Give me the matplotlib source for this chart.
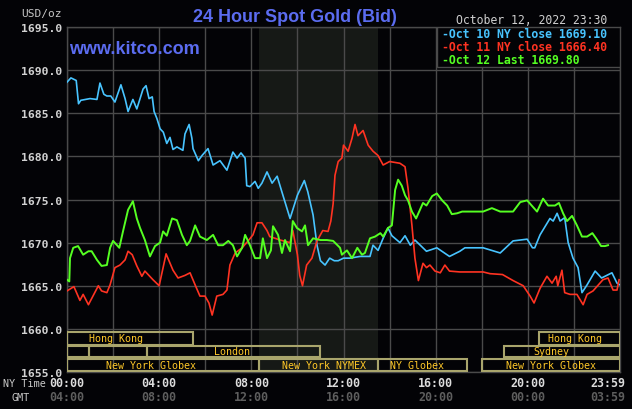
import numpy as np
import matplotlib.pyplot as plt
from matplotlib.patches import Rectangle

# --- values (hour of NY day, USD/oz) ---
blue_h = [0, 0.17, 0.4, 0.5, 0.6, 1.0, 1.3, 1.43, 1.6, 1.73, 1.9, 2.08, 2.34, 2.52, 2.65, 2.86,
          3.03, 3.3, 3.43, 3.56, 3.7, 3.78, 3.9, 4.04, 4.18, 4.33, 4.47, 4.6, 4.77, 5.03, 5.12,
          5.3, 5.42, 5.47, 5.7, 5.86, 6.12, 6.34, 6.64, 6.94, 7.2, 7.38, 7.55, 7.73, 7.8, 7.94,
          8.16, 8.3, 8.46, 8.68, 8.9, 9.12, 9.37, 9.68, 10.0, 10.3, 10.45, 10.68, 10.85, 11.0,
          11.2, 11.4, 11.6, 11.77, 12.0, 12.28, 12.72, 13.15, 13.28, 13.5, 13.72, 13.93, 14.1,
          14.45, 14.67, 14.9, 15.1, 15.6, 16.05, 16.6, 17.05, 17.27, 18.06, 18.8, 19.36, 19.97,
          20.2, 20.3, 20.53, 20.96, 21.1, 21.27, 21.4, 21.6, 21.75, 21.96, 22.18, 22.35, 22.57,
          22.92, 23.2, 23.65, 23.87, 24.0]
blue_p = [1688.6, 1689.1, 1688.8, 1686.1, 1686.5, 1686.7, 1686.6, 1688.5, 1687.2, 1687.0, 1687.0,
          1686.3, 1688.3, 1686.7, 1685.2, 1686.6, 1685.5, 1687.8, 1688.2, 1686.7, 1686.9, 1685.2,
          1684.4, 1683.2, 1682.8, 1681.5, 1682.2, 1680.8, 1681.1, 1680.7, 1682.6, 1683.7, 1682.1,
          1680.9, 1679.5, 1680.1, 1680.9, 1679.0, 1679.5, 1678.4, 1680.5, 1679.8, 1680.4, 1679.8,
          1676.6, 1676.5, 1677.1, 1676.3, 1676.9, 1678.2, 1676.9, 1677.7, 1675.5, 1672.8, 1675.5,
          1677.2, 1675.9, 1673.2, 1669.7, 1667.9, 1667.4, 1668.2, 1667.9, 1667.9, 1668.2, 1668.2,
          1668.4, 1668.4, 1669.7, 1669.1, 1670.5, 1671.7, 1670.8, 1670.0, 1670.8, 1669.7, 1670.3,
          1669.0, 1669.4, 1668.4, 1669.0, 1669.4, 1669.4, 1668.8, 1670.2, 1670.4, 1669.4, 1669.4,
          1670.9, 1672.8, 1672.5, 1673.4, 1672.5, 1672.9, 1670.0, 1668.2, 1667.1, 1664.2, 1665.1,
          1666.7, 1665.9, 1666.5, 1665.3, 1665.1]

red_h = [0, 0.3, 0.56, 0.7, 0.93, 1.36, 1.5, 1.73, 1.87, 2.08, 2.3, 2.52, 2.65, 2.83, 3.03, 3.25,
         3.38, 3.52, 3.73, 4.0, 4.3, 4.6, 4.82, 5.12, 5.34, 5.56, 5.77, 5.99, 6.16, 6.3, 6.5, 6.77,
         6.94, 7.07, 7.3, 7.6, 7.86, 8.07, 8.25, 8.46, 8.68, 8.8, 9.03, 9.25, 9.68, 9.8, 10.0, 10.1,
         10.22, 10.4, 10.63, 10.85, 11.1, 11.33, 11.45, 11.55, 11.63, 11.77, 11.93, 12.0, 12.2,
         12.37, 12.5, 12.63, 12.85, 13.07, 13.28, 13.5, 13.72, 14.0, 14.45, 14.67, 14.8, 14.97,
         15.1, 15.25, 15.45, 15.6, 15.75, 15.97, 16.2, 16.4, 16.6, 17.05, 18.06, 18.36, 18.9,
         19.36, 19.8, 20.1, 20.27, 20.53, 20.83, 21.05, 21.23, 21.3, 21.48, 21.6, 21.83, 22.13,
         22.4, 22.57, 22.83, 23.26, 23.48, 23.7, 23.87, 23.96]
red_p = [1664.4, 1664.9, 1663.3, 1664.0, 1662.8, 1665.0, 1664.4, 1664.2, 1665.1, 1667.1, 1667.4,
         1668.0, 1669.0, 1668.6, 1667.3, 1666.1, 1666.7, 1666.3, 1665.7, 1665.0, 1668.7, 1666.8,
         1665.9, 1666.2, 1666.5, 1665.1, 1663.8, 1663.8, 1663.0, 1661.6, 1663.8, 1664.0, 1664.5,
         1667.4, 1668.8, 1669.4, 1670.2, 1670.9, 1672.3, 1672.3, 1671.4, 1670.7, 1670.5, 1670.3,
         1670.0, 1671.4, 1668.6, 1666.2, 1665.0, 1667.4, 1668.2, 1670.2, 1671.4, 1671.3, 1672.5,
         1674.5, 1677.8, 1679.4, 1679.8, 1681.3, 1680.6, 1682.1, 1683.7, 1682.4, 1683.0, 1681.3,
         1680.6, 1680.1, 1679.0, 1679.4, 1679.2, 1678.8, 1676.3, 1672.0, 1668.2, 1665.6, 1667.6,
         1667.1, 1667.4, 1666.7, 1666.5, 1667.4, 1666.7, 1666.6, 1666.6, 1666.4, 1666.3, 1665.6,
         1665.0, 1663.8, 1663.0, 1664.7, 1666.1, 1665.3, 1666.1, 1665.0, 1666.8, 1664.2, 1664.0,
         1664.0, 1662.8, 1664.0, 1664.4, 1665.7, 1665.9, 1664.5, 1664.5, 1665.7]

green_h = [0, 0.1, 0.13, 0.27, 0.48, 0.7, 0.93, 1.07, 1.3, 1.5, 1.73, 1.87, 2.0, 2.17, 2.27, 2.43,
           2.65, 2.86, 3.03, 3.17, 3.38, 3.6, 3.82, 4.04, 4.17, 4.33, 4.56, 4.77, 4.99, 5.2, 5.34,
           5.56, 5.77, 6.07, 6.34, 6.56, 6.77, 7.0, 7.2, 7.38, 7.6, 7.73, 7.94, 8.16, 8.38, 8.5,
           8.68, 8.85, 8.94, 9.16, 9.33, 9.46, 9.68, 9.8, 9.98, 10.2, 10.33, 10.46, 10.68, 11.0,
           11.28, 11.55, 11.85, 11.93, 12.15, 12.37, 12.6, 12.8, 12.93, 13.15, 13.37, 13.6, 13.72,
           13.93, 14.1, 14.24, 14.37, 14.53, 14.67, 14.8, 14.97, 15.15, 15.25, 15.45, 15.6, 15.85,
           16.05, 16.28, 16.5, 16.7, 16.93, 17.15, 18.06, 18.44, 18.8, 19.36, 19.67, 19.97, 20.2,
           20.4, 20.66, 20.88, 21.18, 21.35, 21.53, 21.7, 21.92, 22.13, 22.35, 22.57, 22.8, 22.96,
           23.18, 23.35, 23.48]
green_p = [1665.7, 1665.5, 1668.2, 1669.4, 1669.6, 1668.6, 1669.0, 1669.0, 1668.0, 1667.3, 1667.4,
           1669.4, 1670.2, 1669.7, 1669.4, 1671.3, 1673.8, 1674.8, 1672.8, 1671.7, 1670.3, 1668.4,
           1669.6, 1670.0, 1671.3, 1670.8, 1672.8, 1672.6, 1670.9, 1669.7, 1670.2, 1672.0, 1670.7,
           1670.3, 1670.9, 1669.7, 1669.7, 1670.2, 1669.7, 1668.4, 1669.4, 1670.9, 1669.7, 1668.2,
           1668.2, 1670.5, 1668.2, 1669.1, 1671.9, 1670.9, 1668.8, 1670.3, 1669.0, 1672.5, 1671.7,
           1671.3, 1672.0, 1669.7, 1670.5, 1670.3, 1670.3, 1670.2, 1669.4, 1668.6, 1669.1, 1668.2,
           1669.4, 1668.6, 1668.8, 1670.5, 1670.7, 1671.1, 1670.7, 1671.7, 1672.0, 1676.1, 1677.3,
           1676.6, 1675.5, 1674.9, 1673.6, 1672.8, 1673.4, 1674.6, 1674.3, 1675.4, 1675.7, 1674.9,
           1674.3, 1673.3, 1673.4, 1673.6, 1673.6, 1674.0, 1673.6, 1673.6, 1674.7, 1674.9, 1674.2,
           1673.6, 1675.1, 1674.3, 1674.3, 1674.6, 1673.4, 1672.5, 1673.1, 1672.0, 1670.7, 1670.7,
           1671.1, 1670.5, 1669.6, 1669.6, 1669.7]

legend_labels = ['-Oct 10 NY close 1669.10', '-Oct 11 NY close 1666.40', '-Oct 12 Last 1669.80']

ny_ticks = [0, 4, 8, 12, 16, 20, 24]
ny_labels = ['00:00', '04:00', '08:00', '12:00', '16:00', '20:00', '23:59']
gmt_labels = ['04:00', '08:00', '12:00', '16:00', '20:00', '00:00', '03:59']

# market sessions: (row, start hour, end hour, label, label hour)
sessions = [
    (0, 0, 5.47, 'Hong Kong', 2.13),
    (0, 20.49, 24, 'Hong Kong', 22.05),
    (1, 0, 0.95, '', 0),
    (1, 0.95, 3.47, '', 0),
    (1, 3.47, 10.98, 'London', 7.16),
    (1, 18.97, 24, 'Sydney', 21.0),
    (2, 0, 8.33, 'New York Globex', 3.65),
    (2, 8.33, 13.5, 'New York NYMEX', 11.15),
    (2, 13.5, 17.36, 'NY Globex', 15.2),
    (2, 18.0, 24, 'New York Globex', 21.0),
]

# --- colours ---
BG = '#030306'
GRID = '#4a4a4a'
BLUE = '#48c4ff'
RED = '#ff3322'
GREEN = '#55ff22'
TITLE = '#5b6cf0'
BOX = '#a9a56c'
SESS_TXT = '#ffc828'
MONO = 'DejaVu Sans Mono'

W, H = 632, 410
fig = plt.figure(figsize=(W / 100, H / 100), dpi=100, facecolor=BG)
ax = fig.add_axes([67 / W, 1 - 373 / H, 553 / W, 345 / H], facecolor=BG)


def px(x, y):
    return x / W, 1 - y / H


ax.set_xlim(0, 24)
ax.set_ylim(1655, 1695)
ax.axvspan(8.33, 13.5, color='#161916', zorder=0, lw=0)

ax.set_xticks(np.arange(0, 25, 2))
ax.set_yticks(np.arange(1655, 1696, 5))
ax.grid(True, color=GRID, lw=1, zorder=1)
ax.tick_params(length=0, labelbottom=False)
ax.set_yticklabels([f'{v:.1f}' for v in np.arange(1655, 1696, 5)],
                   color='#d2d2d2', fontfamily=MONO, fontweight='bold', fontsize=8.2)
ax.tick_params(axis='y', pad=3.5)
for s in ax.spines.values():
    s.set_color(GRID)
    s.set_linewidth(1)

ax.plot(blue_h, blue_p, color=BLUE, lw=1.2, zorder=4)
ax.plot(red_h, red_p, color=RED, lw=1.2, zorder=4)
ax.plot(green_h, green_p, color=GREEN, lw=1.4, zorder=5)

# session bars in the 1655-1660 band
rows = [(1658.17, 1659.67), (1656.78, 1658.05), (1655.15, 1656.55)]
for row, x0, x1, lab, lx in sessions:
    y0, y1 = rows[row]
    ax.add_patch(Rectangle((x0, y0), x1 - x0, y1 - y0, fill=False,
                           edgecolor=BOX, lw=1.5, zorder=3))
    if lab:
        ax.text(lx, (y0 + y1) / 2, lab, color=SESS_TXT, fontfamily=MONO,
                fontsize=7.2, ha='center', va='center', zorder=6)

# legend box
ax.add_patch(Rectangle((16.06, 1690.4), 24 - 16.06, 4.6, facecolor=BG,
                       edgecolor=GRID, lw=1, zorder=6))
for i, (lab, c) in enumerate(zip(legend_labels, [BLUE, RED, GREEN])):
    fig.text(*px(442, 35 + 12.5 * i), lab, color=c, fontfamily=MONO,
             fontweight='bold', fontsize=8.3, ha='left', va='center')

# texts
fig.text(*px(295, 17), '24 Hour Spot Gold (Bid)', color=TITLE,
         fontfamily='Liberation Sans', fontweight='bold', fontsize=13,
         ha='center', va='center')
fig.text(*px(69, 49), 'www.kitco.com', color=TITLE, fontfamily='Liberation Sans',
         fontweight='bold', fontsize=13, ha='left', va='center', zorder=7)
fig.text(*px(21, 14), 'USD/oz', color='#c4c4c4', fontfamily=MONO, fontsize=8.1,
         ha='left', va='center')
fig.text(*px(456, 21), 'October 12, 2022 23:30', color='#d0d0d0', fontfamily=MONO,
         fontsize=8.3, ha='left', va='center')

fig.text(*px(3, 384), 'NY Time', color='#c8c8c8', fontfamily=MONO, fontsize=7.3,
         ha='left', va='center')
fig.text(*px(12, 398), 'GMT', color='#c8c8c8', fontfamily=MONO, fontsize=7.3,
         ha='left', va='center')
for h, a, b in zip(ny_ticks, ny_labels, gmt_labels):
    x = 67 + 553 * h / 24
    if h == 24:
        x = 608
    fig.text(*px(x, 384), a, color='#dcdcdc', fontfamily=MONO, fontweight='bold',
             fontsize=8.4, ha='center', va='center')
    fig.text(*px(x, 398), b, color='#5e5e5e', fontfamily=MONO, fontweight='bold',
             fontsize=8.4, ha='center', va='center')

fig.savefig('out.png', dpi=100, facecolor=BG)
